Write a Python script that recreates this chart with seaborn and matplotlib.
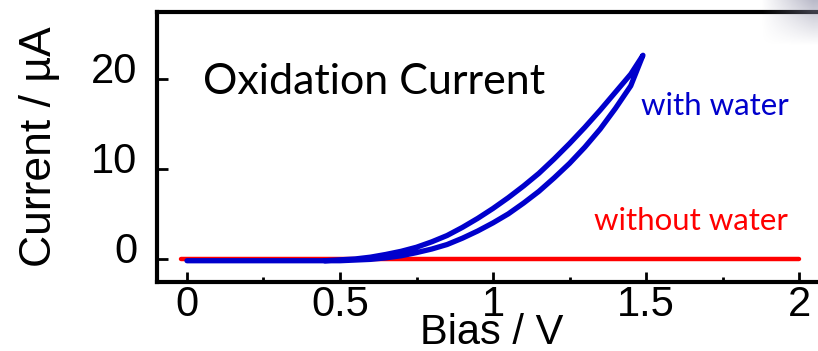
import matplotlib
matplotlib.use("Agg")
import matplotlib.pyplot as plt
import matplotlib.transforms as mtransforms
import numpy as np
import pandas as pd
import seaborn as sns

# forward scan (lower branch) and reverse scan (upper branch) with water
fwd_bias = [0.0, 0.3, 0.5, 0.6, 0.65, 0.7, 0.75, 0.8, 0.85, 0.9, 0.95, 1.0, 1.05,
            1.1, 1.15, 1.2, 1.25, 1.3, 1.35, 1.4, 1.45, 1.49]
fwd_current = [-0.2, -0.2, -0.2, -0.05, 0.12, 0.35, 0.7, 1.1, 1.6, 2.3, 3.1, 4.0,
               5.0, 6.2, 7.5, 9.0, 10.6, 12.4, 14.4, 16.7, 19.2, 22.6]
rev_bias = [1.49, 1.45, 1.4, 1.35, 1.3, 1.25, 1.2, 1.15, 1.1, 1.05, 1.0, 0.95,
            0.9, 0.85, 0.8, 0.75, 0.7, 0.65, 0.6, 0.55, 0.5, 0.45]
rev_current = [22.6, 20.5, 18.5, 16.5, 14.6, 12.8, 11.1, 9.5, 8.1, 6.8, 5.6, 4.5,
               3.5, 2.6, 1.9, 1.3, 0.85, 0.5, 0.2, 0.0, -0.1, -0.2]

# without water: flat at zero
dry_bias = [-0.02, 0.5, 1.0, 1.5, 2.0]
dry_current = [0.0, 0.0, 0.0, 0.0, 0.0]

x_ticks = [0, 0.5, 1, 1.5, 2]
x_tick_labels = ["0", "0.5", "1", "1.5", "2"]
y_ticks = [0, 10, 20]

wet = pd.DataFrame({
    "bias": fwd_bias + rev_bias,
    "current": fwd_current + rev_current,
})
dry = pd.DataFrame({"bias": dry_bias, "current": dry_current})

sns.set_style("ticks")
plt.rcParams["font.family"] = ["Liberation Sans", "DejaVu Sans"]
plt.rcParams["text.color"] = "black"
plt.rcParams["axes.labelcolor"] = "black"
plt.rcParams["xtick.color"] = "black"
plt.rcParams["ytick.color"] = "black"

fig = plt.figure(figsize=(8.18, 3.51), dpi=100)
ax = fig.add_axes([157 / 818, 1 - 282 / 351, 661 / 818, 270 / 351])

sns.lineplot(data=dry, x="bias", y="current", color="#ff0000", lw=3.2,
             sort=False, estimator=None, ax=ax)
sns.lineplot(data=wet, x="bias", y="current", color="#0000cc", lw=3.8,
             sort=False, estimator=None, ax=ax)

ax.set_xlim(-0.098, 2.062)
ax.set_ylim(-2.56, 27.4)

for side in ["left", "top", "bottom"]:
    ax.spines[side].set_linewidth(3)
    ax.spines[side].set_color("black")
ax.spines["right"].set_visible(False)

ax.set_xticks(x_ticks)
ax.set_xticklabels(x_tick_labels)
ax.set_xticks([0.25, 0.75, 1.25, 1.75], minor=True)
ax.set_yticks(y_ticks)
ax.tick_params(axis="x", which="major", direction="in", length=7, width=2,
               labelsize=30, pad=2, colors="black")
ax.tick_params(axis="x", which="minor", direction="in", length=3.5, width=2,
               colors="black")
ax.tick_params(axis="y", which="major", direction="in", length=8, width=2,
               labelsize=30, pad=14, colors="black")
ax.tick_params(top=False, right=False)

# y tick labels sit a little above their ticks in the original
shift = mtransforms.ScaledTranslation(0, 11 / 100, fig.dpi_scale_trans)
for lbl in ax.get_yticklabels():
    lbl.set_transform(lbl.get_transform() + shift)

ax.set_xlabel("Bias / V", fontsize=30, color="black")
ax.xaxis.set_label_coords(0.506, -0.115)
ax.set_ylabel("Current / \u00b5A", fontsize=32, color="black")
ax.yaxis.set_label_coords(-0.147, 0.5)

ax.text(0.07, 0.74, "Oxidation Current", transform=ax.transAxes,
        fontsize=31, family=["Lato", "DejaVu Sans"], color="black",
        ha="left", va="center")
ax.text(0.955, 0.652, "with water", transform=ax.transAxes,
        fontsize=22.5, family=["Lato", "DejaVu Sans"], color="#0000cc",
        ha="right", va="center")
ax.text(0.955, 0.226, "without water", transform=ax.transAxes,
        fontsize=22.5, family=["Lato", "DejaVu Sans"], color="#ff0000",
        ha="right", va="center")

# soft grey smudge at the top right corner
smudge = fig.add_axes([755 / 818, 1 - 50 / 351, 63 / 818, 50 / 351])
gx, gy = np.meshgrid(np.linspace(0, 1, 60), np.linspace(0, 1, 50))
alpha = np.clip((gx - 0.1) * 1.2, 0, 1) * np.clip(1 - gy * 1.1, 0, 1) * 0.6
rgba = np.zeros((50, 60, 4))
rgba[..., 0] = 0.55
rgba[..., 1] = 0.55
rgba[..., 2] = 0.65
rgba[..., 3] = alpha
smudge.imshow(rgba, aspect="auto", interpolation="bilinear")
smudge.axis("off")

fig.savefig("out.png", dpi=100)
